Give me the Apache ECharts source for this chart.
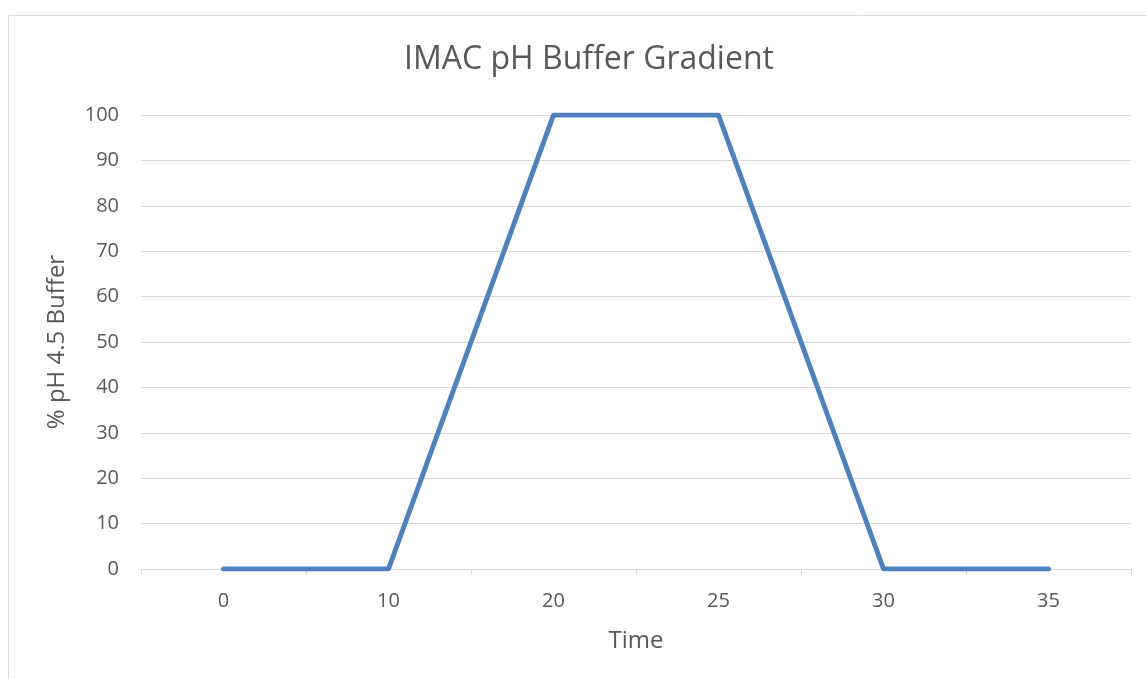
<!DOCTYPE html>
<html>
<head>
<meta charset="utf-8">
<script src="https://cdn.jsdelivr.net/npm/echarts@6/dist/echarts.min.js"></script>
<style>
  html, body { margin: 0; padding: 0; background: #ffffff; }
  #chart { width: 1146px; height: 679px; }
</style>
</head>
<body>
<div id="chart"></div>
<script>
  // 时间点（类目轴）和缓冲液百分比
  var times = ['0', '10', '20', '25', '30', '35'];
  var bufferPct = [0, 0, 100, 100, 0, 0];

  var myChart = echarts.init(document.getElementById('chart'));

  myChart.setOption({
    animation: false,
    textStyle: { fontFamily: 'Open Sans' },
    graphic: [{
      type: 'rect',
      shape: { x: 8.5, y: 15.5, width: 1200, height: 700 },
      style: { fill: 'none', stroke: '#d9d9d9', lineWidth: 1 },
      silent: true
    }],
    title: {
      text: 'IMAC pH Buffer Gradient',
      left: 584,
      textAlign: 'center',
      top: 39,
      textStyle: { fontFamily: 'Open Sans', fontSize: 32, fontWeight: 'normal', color: '#595959' }
    },
    grid: { left: 141, right: 15, top: 115, bottom: 110 },
    xAxis: {
      type: 'category',
      data: times,
      boundaryGap: true,
      name: 'Time',
      nameLocation: 'middle',
      nameGap: 60,
      nameTextStyle: { fontSize: 24, color: '#595959' },
      axisLine: { lineStyle: { color: '#d9d9d9', width: 1 } },
      axisTick: { show: true, length: 6, lineStyle: { color: '#d9d9d9' } },
      axisLabel: { fontSize: 20, color: '#595959', margin: 22 }
    },
    yAxis: {
      type: 'value',
      min: 0,
      max: 100,
      interval: 10,
      name: '% pH 4.5 Buffer',
      nameLocation: 'middle',
      nameGap: 72,
      nameTextStyle: { fontSize: 24, color: '#595959' },
      axisLine: { show: false },
      axisTick: { show: false },
      axisLabel: { fontSize: 20, color: '#595959', margin: 22 },
      splitLine: { lineStyle: { color: '#d9d9d9', width: 1 } }
    },
    series: [{
      type: 'line',
      data: bufferPct,
      showSymbol: false,
      lineStyle: { color: '#4f81bd', width: 5, cap: 'round', join: 'round' },
      itemStyle: { color: '#4f81bd' }
    }]
  });
</script>
</body>
</html>
